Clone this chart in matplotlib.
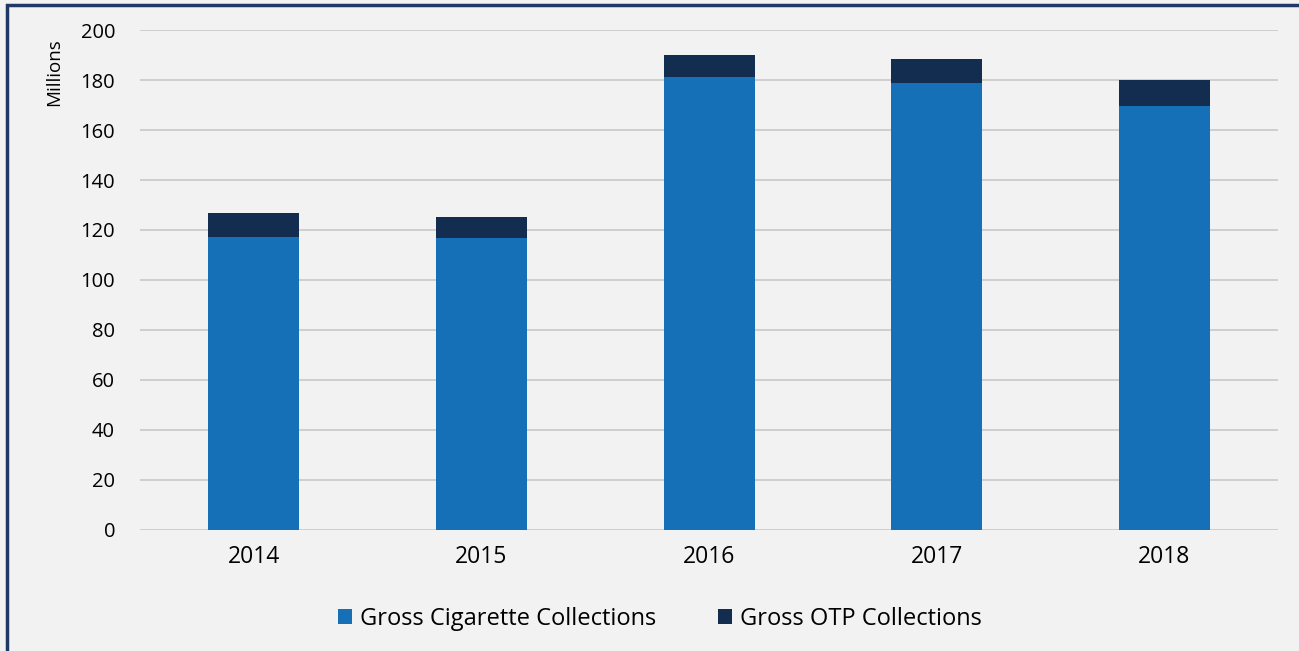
import numpy as np
import matplotlib.pyplot as plt
from matplotlib.patches import Rectangle

years = ['2014', '2015', '2016', '2017', '2018']
cigarette = [117.2, 116.6, 181.2, 178.8, 169.6]
otp = [9.6, 8.6, 9.0, 9.8, 10.4]

plt.rcParams['font.family'] = ['Open Sans', 'DejaVu Sans']

fig = plt.figure(figsize=(12.99, 6.51), dpi=100, facecolor='#f2f2f2')
ax = fig.add_axes([0.1078, 0.1859, 0.8762, 0.768])
ax.set_facecolor('#f2f2f2')

x = np.arange(len(years))
ax.bar(x, cigarette, width=0.4, color='#1570b8', label='Gross Cigarette Collections', zorder=3)
ax.bar(x, otp, width=0.4, bottom=cigarette, color='#122d50', label='Gross OTP Collections', zorder=3)

ax.set_xlim(-0.5, len(years) - 0.5)
ax.set_ylim(0, 200)
ax.set_yticks(range(0, 201, 20))
ax.set_xticks(x)
ax.set_xticklabels(years, fontsize=16.5)
ax.tick_params(axis='y', labelsize=14.5, length=0, pad=18)
ax.tick_params(axis='x', length=0, pad=11)
ax.yaxis.grid(True, color='#c8c8c8', linewidth=1.2, zorder=0)
for s in ax.spines.values():
    s.set_visible(False)

ax.set_ylabel('Millions', fontsize=13.5)
ax.yaxis.set_label_coords(-0.068, 0.916)

fig.legend(loc='center', bbox_to_anchor=(0.508, 0.049), ncol=2, frameon=False,
           fontsize=17, handlelength=0.6, handleheight=0.6, handletextpad=0.35,
           columnspacing=2.6)

# dark frame (top and left visible)
fig.patches.append(Rectangle((7 / 1299, -0.05), 1.2, 1 - 5 / 651 + 0.05,
                             transform=fig.transFigure, fill=False,
                             edgecolor='#1f3864', linewidth=2.5))

fig.savefig('out.png', dpi=100, facecolor=fig.get_facecolor())
